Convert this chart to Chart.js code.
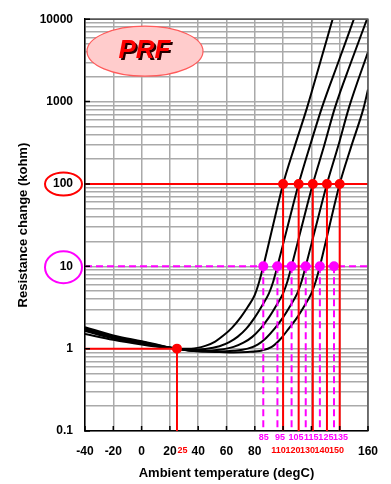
<!DOCTYPE html>
<html>
<head>
<meta charset="utf-8">
<script src="https://cdn.jsdelivr.net/npm/chart.js@4.4.0/dist/chart.umd.min.js"></script>
<style>
  html, body { margin: 0; padding: 0; background: #fff; }
</style>
</head>
<body>
<canvas id="myChart" width="391" height="484"></canvas>
<script>
// axis labels
const yDecades = [0.1, 1, 10, 100, 1000, 10000];
const yTickLabels = ['0.1', '1', '10', '100', '1000', '10000'];
const xHiddenTicks = [100, 120, 140];

// resistance change curves [degC, kohm]
const curve1 = [[-40,1.82],[-20,1.45],[0,1.23],[10,1.13],[25,1.0],[35,1.0],[45,1.08],[52,1.22],[58,1.45],[64,1.8],[70,2.4],[75,3.2],[80,4.5],[83,6.4],[86,10],[93,32],[100,100],[108,280],[117,850],[126,2900],[135,10000]];
const curve2 = [[-40,1.76],[-20,1.41],[0,1.21],[10,1.11],[25,1.0],[35,0.97],[45,0.99],[55,1.07],[62,1.2],[68,1.4],[74,1.75],[80,2.4],[85,3.3],[90,4.7],[93,6.5],[96,10],[103.5,32],[111,100],[119,290],[127.5,850],[139,3000],[150,10000]];
const curve3 = [[-40,1.7],[-20,1.37],[0,1.18],[10,1.09],[25,1.0],[35,0.95],[45,0.94],[55,0.97],[65,1.05],[72,1.18],[78,1.38],[84,1.75],[90,2.4],[95,3.3],[100,4.7],[103,6.5],[106,10],[113.5,32],[121,100],[129,290],[136.7,850],[148,3000],[159.3,10000]];
const curve4 = [[-40,1.64],[-20,1.33],[0,1.16],[10,1.08],[25,1.0],[35,0.94],[45,0.92],[55,0.92],[65,0.94],[75,1.0],[82,1.12],[88,1.35],[94,1.75],[100,2.4],[105,3.3],[110,4.7],[113,6.5],[116,10],[123.5,32],[131,100],[139,290],[146.6,850],[160,4000]];
const curve5 = [[-40,1.51],[-20,1.28],[0,1.12],[10,1.06],[25,1.0],[35,0.94],[45,0.92],[55,0.91],[65,0.9],[75,0.91],[85,0.95],[92,1.05],[98,1.3],[104,1.75],[110,2.4],[115,3.3],[120,4.7],[123,6.5],[126,10],[133,32],[140,100],[148,280],[157,850],[160,1400]];

// reference levels and the crossing temperatures
const baseTemp = 25;
const baseLevel = 1;
const level10 = 10;
const level10Temps = [86, 96, 106, 116, 126, 136];
const level10Labels = ['85', '95', '105', '115', '125', '135'];
const level100 = 100;
const level100Temps = [100, 111, 121, 131, 140];
const level100Labels = ['110', '120', '130', '140', '150'];

const RED = '#ff0000';
const MAGENTA = '#ff00ff';
const FONT = "'Liberation Sans', Arial, sans-serif";
// small sideways nudges so the labels sit like the original ones
const magentaNudge = [0.5, 2.5, 4.5, 5.5, 6, 6.5];

function toPoints(arr) {
    return arr.map(p => ({x: p[0], y: p[1]}));
}

function dropLines(temps, level) {
    let pts = [];
    for (let i = 0; i < temps.length; i++) {
        pts.push({x: temps[i], y: level}, {x: temps[i], y: 0.1}, {x: temps[i], y: null});
    }
    return pts;
}

function curveSet(arr) {
    return {
        data: toPoints(arr),
        borderColor: '#000',
        borderWidth: 2,
        pointRadius: 0,
        cubicInterpolationMode: 'monotone',
        fill: false
    };
}

const decor = {
    id: 'decor',
    afterDatasetsDraw(chart) {
        const ctx = chart.ctx;
        const a = chart.chartArea;
        // PRF badge
        const cx = a.left + 60, cy = a.top + 32;
        ctx.save();
        ctx.beginPath();
        ctx.ellipse(cx, cy, 58, 25, 0, 0, Math.PI * 2);
        ctx.fillStyle = '#ffcccc';
        ctx.fill();
        ctx.lineWidth = 1.2;
        ctx.strokeStyle = '#ff5a5a';
        ctx.stroke();
        ctx.font = 'italic bold 26px ' + FONT;
        ctx.textAlign = 'center';
        ctx.textBaseline = 'middle';
        ctx.fillStyle = '#220000';
        ctx.fillText('PRF', cx + 1.5, cy + 1.5);
        ctx.fillStyle = RED;
        ctx.fillText('PRF', cx - 0.5, cy - 0.5);
        ctx.restore();
    },
    afterDraw(chart) {
        const ctx = chart.ctx;
        const a = chart.chartArea;
        const xs = chart.scales.x, ys = chart.scales.y;
        ctx.save();
        // frame
        ctx.strokeStyle = '#555';
        ctx.lineWidth = 1.5;
        ctx.beginPath();
        ctx.moveTo(a.left, a.top);
        ctx.lineTo(a.right, a.top);
        ctx.lineTo(a.right, a.bottom);
        ctx.stroke();
        // inner ticks
        ctx.strokeStyle = '#000';
        ctx.lineWidth = 1.5;
        ctx.beginPath();
        yDecades.forEach(v => {
            const y = ys.getPixelForValue(v);
            ctx.moveTo(a.left, y);
            ctx.lineTo(a.left + 5, y);
        });
        xs.ticks.forEach(t => {
            const x = xs.getPixelForValue(t.value);
            ctx.moveTo(x, a.bottom);
            ctx.lineTo(x, a.bottom - 5);
        });
        ctx.stroke();
        // rings round 100 and 10
        ctx.lineWidth = 2;
        ctx.strokeStyle = RED;
        ctx.beginPath();
        ctx.ellipse(a.left - 21.5, ys.getPixelForValue(level100), 18.5, 11.5, 0, 0, Math.PI * 2);
        ctx.stroke();
        ctx.strokeStyle = MAGENTA;
        ctx.beginPath();
        ctx.ellipse(a.left - 21.5, ys.getPixelForValue(level10) + 1, 18.5, 16, 0, 0, Math.PI * 2);
        ctx.stroke();
        // temperature labels under the axis
        ctx.font = 'bold 9px ' + FONT;
        ctx.textAlign = 'center';
        ctx.textBaseline = 'middle';
        ctx.fillStyle = MAGENTA;
        level10Temps.forEach((t, i) => {
            ctx.fillText(level10Labels[i], xs.getPixelForValue(t) + magentaNudge[i], a.bottom + 7);
        });
        ctx.fillStyle = RED;
        const x0 = xs.getPixelForValue(level100Temps[0]) - 4.5;
        level100Labels.forEach((lab, i) => {
            ctx.fillText(lab, x0 + 14.5 * i, a.bottom + 20);
        });
        ctx.fillText(String(baseTemp), xs.getPixelForValue(baseTemp) + 5.5, a.bottom + 20);
        ctx.restore();
    }
};

const datasets = [
    {
        data: [{x: -40, y: baseLevel}, {x: baseTemp, y: baseLevel}, {x: baseTemp, y: 0.1}],
        borderColor: RED, backgroundColor: RED, borderWidth: 2,
        pointRadius: c => (c.raw && c.raw.x === baseTemp && c.raw.y === baseLevel) ? 4 : 0
    },
    {
        data: dropLines(level100Temps, level100),
        borderColor: RED, backgroundColor: RED, borderWidth: 2, spanGaps: false,
        pointRadius: c => (c.raw && c.raw.y === level100) ? 4 : 0
    },
    {
        data: dropLines(level10Temps, level10),
        borderColor: MAGENTA, backgroundColor: MAGENTA, borderWidth: 2, spanGaps: false,
        borderDash: [7, 4],
        pointRadius: c => (c.raw && c.raw.y === level10) ? 4 : 0
    },
    {
        data: [{x: -40, y: level100}, {x: 160, y: level100}],
        borderColor: RED, borderWidth: 2, pointRadius: 0
    },
    {
        data: [{x: -40, y: level10}, {x: 160, y: level10}],
        borderColor: MAGENTA, borderWidth: 2, borderDash: [7, 4], pointRadius: 0
    },
    curveSet(curve1),
    curveSet(curve2),
    curveSet(curve3),
    curveSet(curve4),
    curveSet(curve5)
];

Chart.defaults.font.family = FONT;
Chart.defaults.color = '#000';

new Chart(document.getElementById('myChart'), {
    type: 'line',
    data: { datasets: datasets },
    options: {
        responsive: false,
        animation: false,
        events: [],
        layout: { padding: { top: 10, right: 23, left: 0, bottom: 0 } },
        plugins: { legend: { display: false }, tooltip: { enabled: false } },
        scales: {
            x: {
                type: 'linear', min: -40, max: 160,
                afterFit: s => { s.height = 53; },
                grid: { color: '#aaaaaa', lineWidth: 1.5, drawTicks: false },
                border: { color: '#000', width: 1.5 },
                ticks: {
                    stepSize: 20, autoSkip: false, maxRotation: 0, padding: 13,
                    font: { size: 12, weight: 'bold' },
                    callback: v => xHiddenTicks.includes(v) ? '' : String(v)
                },
                title: {
                    display: true, text: 'Ambient temperature (degC)',
                    font: { size: 13, weight: 'bold' }, padding: { top: 0, bottom: 3 }
                }
            },
            y: {
                type: 'logarithmic', min: 0.1, max: 10000,
                afterFit: s => { s.width = 85; },
                afterBuildTicks: s => {
                    const t = [];
                    for (let d = 0; d < yDecades.length - 1; d++) {
                        for (let m = 1; m < 10; m++) {
                            t.push({ value: +(yDecades[d] * m).toPrecision(3) });
                        }
                    }
                    t.push({ value: yDecades[yDecades.length - 1] });
                    s.ticks = t;
                },
                grid: { color: '#aaaaaa', lineWidth: 1.5, drawTicks: false },
                border: { color: '#000', width: 1.5 },
                ticks: {
                    autoSkip: false, padding: 12,
                    font: { size: 12, weight: 'bold' },
                    callback: v => {
                        const i = yDecades.indexOf(v);
                        return i >= 0 ? yTickLabels[i] : '';
                    }
                },
                title: {
                    display: true, text: 'Resistance change (kohm)',
                    font: { size: 13, weight: 'bold' }, padding: { top: 16, bottom: 0 }
                }
            }
        }
    },
    plugins: [decor]
});
</script>
</body>
</html>
